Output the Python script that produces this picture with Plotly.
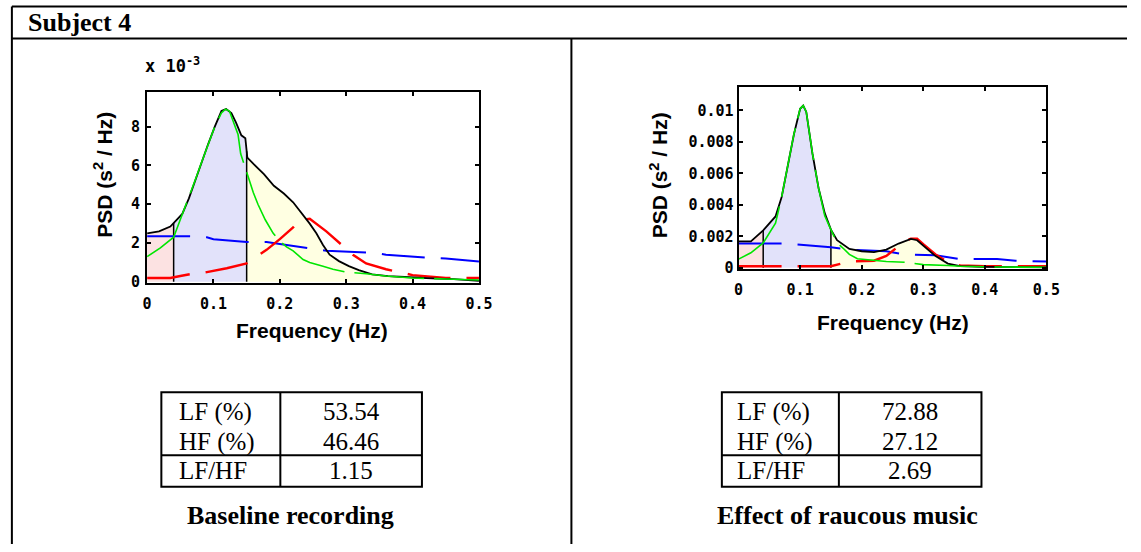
import numpy as np
import plotly.graph_objects as go

W, H = 1141, 552

# ---------------- data (PSD values in 1e-3 s^2/Hz) ----------------
# Baseline recording
base_f = [0, 0.018, 0.035, 0.043, 0.053, 0.063, 0.072, 0.082, 0.092, 0.102, 0.112, 0.119, 0.127,
          0.134, 0.142, 0.148, 0.151, 0.161, 0.176, 0.191, 0.206, 0.220, 0.235, 0.245, 0.255, 0.265,
          0.275, 0.289, 0.304, 0.319, 0.339, 0.363, 0.388, 0.413, 0.437, 0.462, 0.5]
base_psd = [2.5, 2.6, 2.85, 3.15, 3.5, 4.3, 5.2, 6.15, 7.1, 8.0, 8.8, 8.9, 8.7, 8.2, 7.55, 7.4, 6.4,
            6.05, 5.55, 4.95, 4.55, 4.1, 3.45, 3.0, 2.5, 1.9, 1.4, 1.07, 0.81, 0.61, 0.39, 0.3, 0.25,
            0.19, 0.17, 0.14, 0.05]
base_green_f = [0, 0.02, 0.04, 0.05, 0.063, 0.072, 0.082, 0.092, 0.102, 0.112, 0.118, 0.124, 0.13,
                0.137, 0.141, 0.15, 0.16, 0.167, 0.178, 0.19, 0.2, 0.21, 0.22, 0.235, 0.245, 0.265,
                0.28, 0.3, 0.33, 0.36, 0.4, 0.45, 0.5]
base_green = [1.3, 1.75, 2.3, 3.2, 4.3, 5.2, 6.15, 7.1, 8.0, 8.7, 8.9, 8.8, 8.2, 7.6, 6.6, 5.6, 4.6,
              4.0, 3.2, 2.5, 2.1, 1.8, 1.6, 1.15, 1.0, 0.8, 0.65, 0.5, 0.42, 0.3, 0.2, 0.15, 0.1]
base_blue_f = [0, 0.07, 0.09, 0.1, 0.15, 0.18, 0.2, 0.24, 0.27, 0.34, 0.36, 0.42, 0.45, 0.5]
base_blue = [2.35, 2.35, 2.3, 2.2, 2.05, 2.05, 1.95, 1.75, 1.6, 1.5, 1.4, 1.25, 1.2, 1.05]
base_red_f = [0, 0.035, 0.05, 0.065, 0.09, 0.12, 0.15, 0.18, 0.2, 0.22, 0.23, 0.245, 0.27, 0.29,
              0.31, 0.33, 0.36, 0.4, 0.42, 0.45, 0.5]
base_red = [0.2, 0.2, 0.3, 0.4, 0.5, 0.7, 0.95, 1.65, 2.2, 2.8, 3.2, 3.25, 2.6, 2.0, 1.4, 0.95,
            0.65, 0.35, 0.3, 0.2, 0.2]

# Raucous music
music_f = [0, 0.02, 0.04, 0.05, 0.06, 0.07, 0.08, 0.09, 0.1, 0.105, 0.11, 0.12, 0.13, 0.14, 0.15,
           0.16, 0.18, 0.2, 0.22, 0.24, 0.26, 0.28, 0.29, 0.3, 0.31, 0.32, 0.34, 0.36, 0.4, 0.45, 0.5]
music_psd = [1.68, 1.68, 2.38, 2.84, 3.26, 4.5, 6.4, 8.5, 10.1, 10.3, 9.9, 7.26, 5.05, 3.47, 2.42,
             1.75, 1.2, 1.05, 1.0, 1.16, 1.54, 1.83, 1.75, 1.41, 1.05, 0.74, 0.27, 0.1, 0.06, 0.06, 0.02]
music_green_f = [0, 0.02, 0.04, 0.06, 0.07, 0.08, 0.09, 0.1, 0.105, 0.11, 0.12, 0.13, 0.14, 0.15,
                 0.16, 0.172, 0.18, 0.193, 0.21, 0.24, 0.27, 0.3, 0.34, 0.36, 0.42, 0.5]
music_green = [0.55, 0.95, 1.58, 2.84, 4.5, 6.4, 8.5, 10.1, 10.3, 9.9, 7.26, 5.05, 3.3, 2.42, 1.6,
               1.16, 0.85, 0.57, 0.5, 0.4, 0.35, 0.2, 0.15, 0.1, 0.05, 0.03]
music_blue_f = [0, 0.04, 0.07, 0.09, 0.12, 0.15, 0.18, 0.24, 0.27, 0.32, 0.36, 0.42, 0.45, 0.5]
music_blue = [1.55, 1.55, 1.55, 1.5, 1.4, 1.3, 1.15, 1.05, 0.85, 0.8, 0.55, 0.55, 0.45, 0.4]
music_red_f = [0, 0.07, 0.09, 0.15, 0.18, 0.22, 0.24, 0.27, 0.28, 0.29, 0.3, 0.31, 0.32, 0.34, 0.36,
               0.4, 0.5]
music_red = [0.1, 0.1, 0.1, 0.1, 0.4, 0.45, 0.75, 1.7, 1.85, 1.85, 1.5, 1.2, 0.85, 0.35, 0.15, 0.1, 0.1]

bands = [0, 0.04, 0.15, 0.4]
band_colors = ["rgb(252,226,226)", "rgb(226,226,250)", "rgb(255,255,226)"]

x_ticks = [0, 0.1, 0.2, 0.3, 0.4, 0.5]
x_ticktext = ["0", "0.1", "0.2", "0.3", "0.4", "0.5"]
base_yticks = [0, 0.002, 0.004, 0.006, 0.008]
base_yticktext = ["0", "2", "4", "6", "8"]
music_yticks = [0, 0.002, 0.004, 0.006, 0.008, 0.01]
music_yticktext = ["0", "0.002", "0.004", "0.006", "0.008", "0.01"]

table_rows = ["LF (%)", "HF (%)", "LF/HF"]
base_table = ["53.54", "46.46", "1.15"]
music_table = ["72.88", "27.12", "2.69"]

header = "Subject 4"
captions = ["Baseline recording", "Effect of raucous music"]

# ---------------- helpers ----------------
def px(x):
    return x / W

def py(y):
    return 1 - y / H

fig = go.Figure()

def band_trace(f, p, lo, hi):
    f = np.asarray(f, float)
    p = np.asarray(p, float) * 1e-3
    m = (f > lo) & (f < hi)
    bx = np.concatenate([[lo], f[m], [hi]])
    by = np.concatenate([[np.interp(lo, f, p)], p[m], [np.interp(hi, f, p)]])
    return bx, by

def add_panel(f, p, gf, g, bf, b, rf, r, xa, ya):
    fa = np.asarray(f, float)
    pa = np.asarray(p, float) * 1e-3
    for i in range(3):
        bx, by = band_trace(f, p, bands[i], bands[i + 1])
        fig.add_trace(go.Scatter(x=bx, y=by, mode="lines", fill="tozeroy",
                                 fillcolor=band_colors[i], line=dict(width=0),
                                 xaxis=xa, yaxis=ya, hoverinfo="skip"))
    for edge in bands[1:3]:
        fig.add_trace(go.Scatter(x=[edge, edge], y=[0, np.interp(edge, fa, pa)], mode="lines",
                                 line=dict(color="black", width=1.5), xaxis=xa, yaxis=ya))
    fig.add_trace(go.Scatter(x=bf, y=np.asarray(b) * 1e-3, mode="lines",
                             line=dict(color="rgb(0,0,255)", width=2, dash="43px,16px"),
                             xaxis=xa, yaxis=ya))
    fig.add_trace(go.Scatter(x=rf, y=np.asarray(r) * 1e-3, mode="lines",
                             line=dict(color="rgb(255,0,0)", width=2.4, dash="43px,16px"),
                             xaxis=xa, yaxis=ya))
    fig.add_trace(go.Scatter(x=f, y=pa, mode="lines",
                             line=dict(color="black", width=1.8),
                             xaxis=xa, yaxis=ya))
    fig.add_trace(go.Scatter(x=gf, y=np.asarray(g) * 1e-3, mode="lines",
                             line=dict(color="rgb(0,230,0)", width=1.6, dash="70px,10px"),
                             xaxis=xa, yaxis=ya))

add_panel(base_f, base_psd, base_green_f, base_green, base_blue_f, base_blue,
          base_red_f, base_red, "x", "y")
add_panel(music_f, music_psd, music_green_f, music_green, music_blue_f, music_blue,
          music_red_f, music_red, "x2", "y2")

tick_font = dict(family="DejaVu Sans Mono", size=15, color="black", weight="bold")
axis_common = dict(showline=True, linecolor="black", linewidth=2, mirror="ticks",
                   ticks="inside", ticklen=4, tickwidth=2, tickcolor="black",
                   showgrid=False, zeroline=False, tickfont=tick_font, fixedrange=True)

fig.update_layout(
    width=W, height=H, margin=dict(l=0, r=0, t=0, b=0),
    paper_bgcolor="white", plot_bgcolor="white", showlegend=False,
    xaxis=dict(domain=[px(144.5), px(482)], range=[0, 0.5], tickvals=x_ticks,
               ticktext=x_ticktext, anchor="y", ticklabelstandoff=6, **axis_common),
    yaxis=dict(domain=[py(287), py(93)], range=[-0.00005, 0.0098], tickvals=base_yticks,
               ticktext=base_yticktext, anchor="x", ticklabelstandoff=2, **axis_common),
    xaxis2=dict(domain=[px(746), px(1059)], range=[0, 0.5], tickvals=x_ticks,
                ticktext=x_ticktext, anchor="y2", ticklabelstandoff=6, **axis_common),
    yaxis2=dict(domain=[py(273), py(88)], range=[-0.00008, 0.0115], tickvals=music_yticks,
                ticktext=music_yticktext, anchor="x2", ticklabelstandoff=0, **axis_common),
)

# ---------------- frame lines ----------------
frame = dict(color="black", width=2)
shapes = [
    dict(type="line", xref="paper", yref="paper", x0=px(7), x1=px(1141), y0=py(6.5), y1=py(6.5), line=frame),
    dict(type="line", xref="paper", yref="paper", x0=px(7), x1=px(1141), y0=py(39), y1=py(39), line=frame),
    dict(type="line", xref="paper", yref="paper", x0=px(7), x1=px(7), y0=py(6.5), y1=py(552), line=frame),
    dict(type="line", xref="paper", yref="paper", x0=px(576), x1=px(576), y0=py(39), y1=py(552), line=frame),
]

annots = []
annots.append(dict(text="<b>" + header + "</b>", x=px(21), y=py(23), xref="paper", yref="paper",
                   xanchor="left", yanchor="middle", showarrow=False,
                   font=dict(family="Liberation Serif", size=26, color="black")))

label_font = dict(family="Liberation Sans", size=21, color="black", weight="bold")
# axis labels
for cx, cy in [(312, 335), (903, 327)]:
    annots.append(dict(text="Frequency (Hz)", x=px(cx), y=py(cy), xref="paper", yref="paper",
                       xanchor="center", yanchor="middle", showarrow=False, font=label_font))
for cx, cy in [(100, 177), (665, 178)]:
    annots.append(dict(text="PSD (s<sup>2</sup> / Hz)", x=px(cx), y=py(cy), xref="paper",
                       yref="paper", xanchor="center", yanchor="middle", showarrow=False,
                       textangle=-90, font=label_font))
annots.append(dict(text="x 10<sup>-3</sup>", x=px(140), y=py(66), xref="paper", yref="paper",
                   xanchor="left", yanchor="middle", showarrow=False,
                   font=dict(family="DejaVu Sans Mono", size=17, color="black", weight="bold")))

# ---------------- tables ----------------
table_font = dict(family="Liberation Serif", size=25, color="black")
row_y = [418, 448, 477]
for (l, mid, r, lab_x, val_x, vals) in [(159, 280, 424, 175, 352, base_table),
                                         (729, 848, 993, 742, 920, music_table)]:
    top, hdiv, bot = 398, 462, 494
    tl = dict(color="black", width=2)
    shapes += [
        dict(type="rect", xref="paper", yref="paper", x0=px(l), x1=px(r), y0=py(bot), y1=py(top), line=tl),
        dict(type="line", xref="paper", yref="paper", x0=px(mid), x1=px(mid), y0=py(bot), y1=py(top), line=tl),
        dict(type="line", xref="paper", yref="paper", x0=px(l), x1=px(r), y0=py(hdiv), y1=py(hdiv), line=tl),
    ]
    for name, v, yy in zip(table_rows, vals, row_y):
        annots.append(dict(text=name, x=px(lab_x), y=py(yy), xref="paper", yref="paper",
                           xanchor="left", yanchor="middle", showarrow=False, font=table_font))
        annots.append(dict(text=v, x=px(val_x), y=py(yy), xref="paper", yref="paper",
                           xanchor="center", yanchor="middle", showarrow=False, font=table_font))

for cap, cx in zip(captions, [290, 857]):
    annots.append(dict(text="<b>" + cap + "</b>", x=px(cx), y=py(523), xref="paper", yref="paper",
                       xanchor="center", yanchor="middle", showarrow=False,
                       font=dict(family="Liberation Serif", size=26, color="black")))

fig.update_layout(shapes=shapes, annotations=annots)
fig.write_html("out.html")
